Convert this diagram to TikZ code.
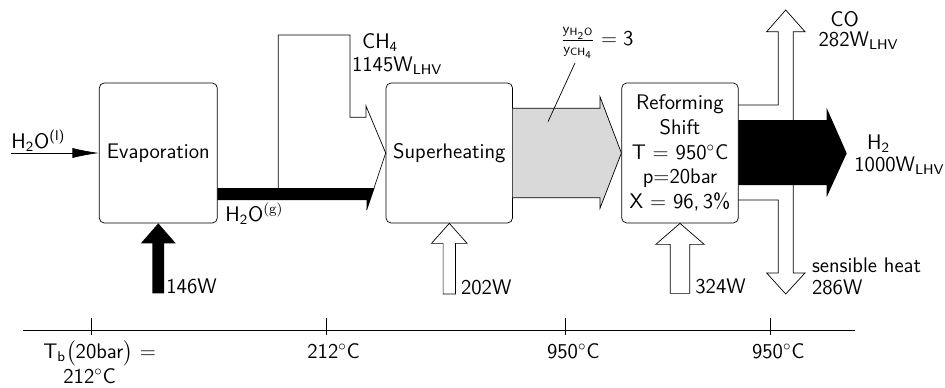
\documentclass[tikz,border=0pt]{standalone}
\usepackage{amsmath,amssymb}
\usepackage{xcolor}
\usepackage{tikz}
\usetikzlibrary{arrows.meta,positioning,calc}

\tikzset{
  unit/.style={draw,rounded corners=1mm,minimum height=2.8cm,align=center,inner sep=1pt},
  lbl/.style={inner sep=0pt,anchor=base west},
}

\begin{document}
\begin{tikzpicture}[x=0.2cm,y=-0.2cm,font=\sffamily\fontsize{12}{14}\selectfont]
  \useasboundingbox (0,0) rectangle (94.5,38.7);
  \node[unit,minimum width=2.36cm] (evap) at (15.83,15.3) {Evaporation};
  \node[unit,minimum width=2.53cm] (superh) at (44.93,15.3) {Superheating};
  \node[unit,minimum width=2.33cm] (reform) at (68.0,15.3)
    {Reforming\\Shift\\T $=$ 950$^\circ$C\\p=20bar\\X $=$ 96,\,3\%};
  % feed water
  \coordinate (h2oin) at (1.1,15.3);
  \draw[-{Latex[length=5.3mm,width=2mm]}] (h2oin) -- (evap.west);
  \node[lbl] (h2ol) at (1.1,14.8) {H\textsubscript{2}O\textsuperscript{(l)}};
  % steam + methane
  \draw (27.83,18.8) -- (27.83,3.5) -- (35,3.5) -- (35,11.73) -- (36.6,11.73)
    -- (36.6,10.6) -- (superh.west) -- (36.67,21);
  \fill (21.73,18.8) -- (37.45,18.8) -- (36.67,21) -- (36.67,20) -- (21.73,20) -- cycle;
  \node[lbl] (ch4) at (36.17,4.8) {CH\textsubscript{4}};
  \node[lbl] (ch4w) at (35.17,7.15) {1145W\textsubscript{LHV}};
  \node[lbl] (h2og) at (22.5,22.1) {H\textsubscript{2}O$^{(\mathrm{g})}$};
  % superheated feed
  \filldraw[fill=gray!30] (51.27,10.83) -- (60,10.83) -- (60,9.67) -- (reform.west)
    -- (60,20.83) -- (60,19.77) -- (51.27,19.77);
  \node (ratio) at (59.7,4.3) {$\frac{\mathsf{y}_{\mathsf{H_2O}}}{\mathsf{y}_{\mathsf{CH_4}}}=\mathsf{3}$};
  \coordinate (ratiotop) at (57.5,6.3);
  \coordinate (ratiopt) at (54.8,12.17);
  \draw (ratiotop) -- (ratiopt);
  % products
  \fill (73.83,12) -- (82.67,12) -- (82.67,10.8) -- (84.67,15.33) -- (82.67,19.7)
    -- (82.67,18.5) -- (73.83,18.5) -- cycle;
  \draw (73.83,10.5) -- (77.83,10.5) -- (77.83,3.17) -- (76.67,3.17) -- (78.57,1.0)
    -- (80.5,3.17) -- (79.33,3.17) -- (79.33,12);
  \draw (73.83,20) -- (77.83,20) -- (77.83,27.3) -- (76.67,27.3) -- (78.57,29.4)
    -- (80.5,27.3) -- (79.33,27.3) -- (79.33,18.5);
  \node[lbl] (co) at (83,2.65) {CO};
  \node[lbl] (cow) at (81.83,4.67) {282W\textsubscript{LHV}};
  \node[lbl] (h2) at (86.67,14.9) {H\textsubscript{2}};
  \node[lbl] (h2w) at (85.4,17.15) {1000W\textsubscript{LHV}};
  \node[lbl] (sens) at (81.17,27.2) {sensible heat};
  \node[lbl] (sensw) at (81.17,29.4) {286W};
  % heat inputs
  \fill (evap.south) -- ++(1.75,2) -- ++(-1.17,0) -- ++(0,5) -- ++(-1.17,0)
    -- ++(0,-5) -- ++(-1.16,0) -- cycle;
  \draw (superh.south) -- ++(1.78,2) -- ++(-1.17,0) -- ++(0,5.07) -- ++(-1.23,0)
    -- ++(0,-5.07) -- ++(-1.16,0) -- cycle;
  \draw (reform.south) -- ++(2.42,2.1) -- ++(-1.45,0) -- ++(0,4.9) -- ++(-1.94,0)
    -- ++(0,-4.9) -- ++(-1.45,0) -- cycle;
  \node[lbl] (q1) at (16.6,29.3) {146W};
  \node[lbl] (q2) at (46.07,29.4) {202W};
  \node[lbl] (q3) at (69.5,29.3) {324W};
  % temperature axis
  \draw (2.3,33.07) -- (85.5,33.07);
  \foreach \x in {9.17,32.6,56.57,77.03}
    \draw (\x,31.83) -- (\x,33.5);
  \node[lbl] (tb) at (4.3,35.83) {T\textsubscript{b}$\bigl($20bar$\bigr)$ $=$};
  \node[lbl] (tb2) at (6.3,38.3) {212$^\circ$C};
  \node[lbl] (t212) at (30.7,35.83) {212$^\circ$C};
  \node[lbl] (t950a) at (54.67,35.83) {950$^\circ$C};
  \node[lbl] (t950b) at (75.17,35.83) {950$^\circ$C};
\end{tikzpicture}
\end{document}
